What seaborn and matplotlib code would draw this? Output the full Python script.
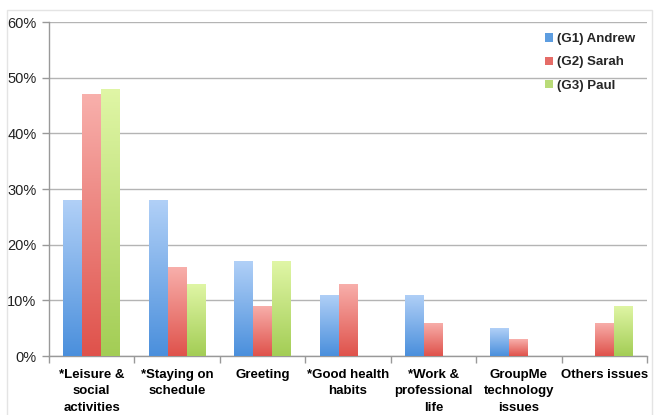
import numpy as np
import pandas as pd
import matplotlib
matplotlib.use("Agg")
import matplotlib.pyplot as plt
import seaborn as sns
from matplotlib.colors import LinearSegmentedColormap
from matplotlib.patches import Patch, Rectangle
from matplotlib.ticker import PercentFormatter

# Chart data
categories = [
    "*Leisure &\nsocial\nactivities",
    "*Staying on\nschedule",
    "Greeting",
    "*Good health\nhabits",
    "*Work &\nprofessional\nlife",
    "GroupMe\ntechnology\nissues",
    "Others issues",
]
groups = ["(G1) Andrew", "(G2) Sarah", "(G3) Paul"]
andrew = [28, 28, 17, 11, 11, 5, 0]
sarah = [47, 16, 9, 13, 6, 3, 6]
paul = [48, 13, 17, 0, 0, 0, 9]

# top / bottom gradient colours per group, plus flat legend colour
grad_top = ["#b1d0f7", "#f8b0ac", "#e0f6a6"]
grad_bottom = ["#4a8fdc", "#df524b", "#a3cd55"]
legend_colors = ["#5d9de0", "#e56c67", "#b9db78"]

df = pd.DataFrame({
    "category": categories * 3,
    "group": np.repeat(groups, len(categories)),
    "value": andrew + sarah + paul,
})

sns.set_theme(style="white")
plt.rcParams["font.family"] = ["Liberation Sans", "DejaVu Sans"]

fig = plt.figure(figsize=(6.57, 4.15), dpi=100)
ax = fig.add_axes([49 / 657, 1 - 356 / 415, 598 / 657, 334 / 415])

sns.barplot(
    data=df, x="category", y="value", hue="group",
    hue_order=groups, order=categories, width=0.666,
    palette=legend_colors, linewidth=0, saturation=1,
    legend=False, ax=ax,
)

# swap flat fills for vertical gradients clipped to each bar
grad = np.linspace(0, 1, 256).reshape(-1, 1)
n = len(categories)
for i, patch in enumerate(ax.patches[: n * len(groups)]):
    g = i // n
    h = patch.get_height()
    if h <= 0:
        continue
    cmap = LinearSegmentedColormap.from_list("g%d" % g, [grad_bottom[g], grad_top[g]])
    x0 = patch.get_x()
    w = patch.get_width()
    im = ax.imshow(grad, cmap=cmap, origin="lower", aspect="auto",
                   extent=[x0, x0 + w, 0, h], zorder=3)
    im.set_clip_path(patch)
    patch.set_facecolor("none")

ax.set_xlim(-0.5, n - 0.5)
ax.set_ylim(0, 60)
ax.set_yticks(range(0, 61, 10))
ax.yaxis.set_major_formatter(PercentFormatter(decimals=0))
ax.grid(axis="y", color="#b4b4b4", linewidth=1, zorder=0)
ax.set_axisbelow(True)

ax.set_xticks(np.arange(n))
ax.set_xticklabels(categories, fontsize=9.5, fontweight="bold", linespacing=1.5)
ax.set_xticks(np.arange(n + 1) - 0.5, minor=True)
ax.tick_params(axis="x", which="major", length=0, pad=9, colors="black")
ax.tick_params(axis="x", which="minor", length=5, width=1, color="#999999", direction="out", bottom=True)
ax.tick_params(axis="y", length=5, width=1, color="#999999", direction="out", left=True,
               labelsize=10.5, pad=4, labelcolor="#222222")
ax.set_xlabel("")
ax.set_ylabel("")

for side in ["top", "right"]:
    ax.spines[side].set_visible(False)
for side in ["left", "bottom"]:
    ax.spines[side].set_color("#999999")
    ax.spines[side].set_linewidth(1)

handles = [Patch(facecolor=c, edgecolor="none") for c in legend_colors]
ax.legend(handles, groups, loc="upper left", bbox_to_anchor=(485 / 598, 1.0),
          frameon=False, handlelength=0.6, handleheight=0.6, handletextpad=0.3,
          labelspacing=0.85, borderaxespad=0.45, prop={"weight": "bold", "size": 9.5})

# light outer frame around the chart
fig.patches.append(Rectangle((7 / 657, -0.02), 645 / 657, 1.02 - 10 / 415,
                             transform=fig.transFigure, fill=False,
                             edgecolor="#e4e4e4", linewidth=1))

fig.savefig("out.png", dpi=100)
